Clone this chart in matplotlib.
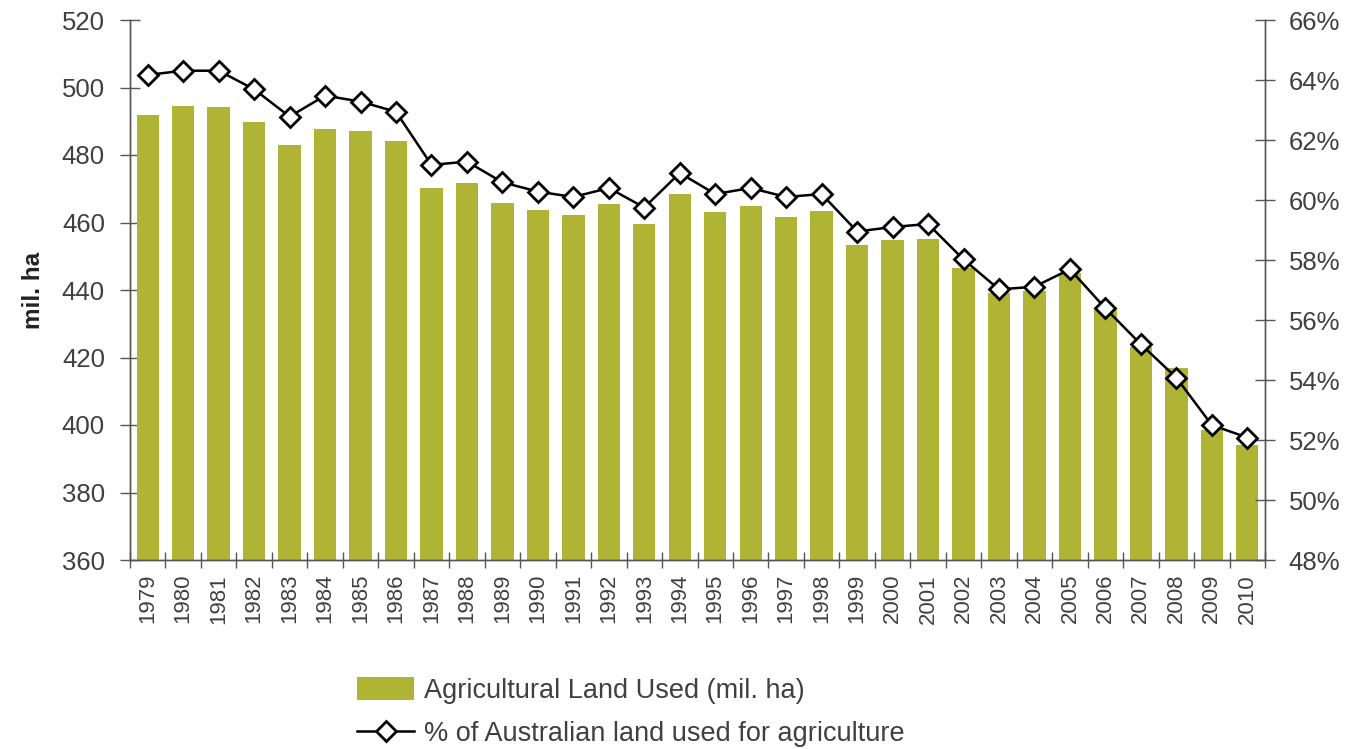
import matplotlib
matplotlib.use("Agg")
import matplotlib.pyplot as plt
from matplotlib.lines import Line2D
from matplotlib.patches import Patch
import numpy as np

plt.rcParams["font.family"] = ["Liberation Sans", "DejaVu Sans"]

years = [str(y) for y in range(1979, 2011)]
land_used = [491.9, 494.5, 494.3, 489.9, 483.0, 487.7, 487.1, 484.2, 470.1, 471.6,
             465.9, 463.7, 462.3, 465.5, 459.5, 468.4, 463.1, 464.9, 461.6, 463.4,
             453.3, 454.8, 455.2, 446.6, 439.2, 439.6, 444.9, 434.1, 423.2, 416.8,
             398.5, 394.1]
pct_used = [64.17, 64.31, 64.31, 63.69, 62.78, 63.48, 63.28, 62.94, 61.17, 61.28,
            60.59, 60.28, 60.10, 60.40, 59.75, 60.90, 60.20, 60.40, 60.10, 60.20,
            58.95, 59.10, 59.20, 58.02, 57.02, 57.11, 57.69, 56.39, 55.19, 54.08,
            52.50, 52.08]
left_ticks = list(range(360, 521, 20))
right_ticks = list(range(48, 67, 2))

BAR = "#b0b434"
TXT = "#404040"
AX = "#555555"

fig = plt.figure(figsize=(13.54, 7.49), dpi=100)
ax = fig.add_axes([130 / 1354, 1 - 560 / 749, 1135 / 1354, 540 / 749])
ax2 = ax.twinx()

x = np.arange(len(years))
ax.bar(x, land_used, width=0.63, color=BAR, zorder=2)
ax2.plot(x, pct_used, color="black", lw=1.8, marker="D", markersize=10,
         markerfacecolor="white", markeredgecolor="black", markeredgewidth=2, zorder=3)

ax.set_xlim(-0.5, len(years) - 0.5)
ax.set_ylim(360, 520)
ax2.set_ylim(48, 66)
ax.set_yticks(left_ticks)
ax2.set_yticks(right_ticks)
ax2.set_yticklabels([f"{v}%" for v in right_ticks])

ax.set_xticks(x)
ax.set_xticklabels(years, rotation=90)
ax.set_xticks(np.arange(-0.5, len(years), 1), minor=True)
ax.tick_params(axis="x", which="major", length=0, pad=10, labelsize=16, labelcolor=TXT)
ax.tick_params(axis="x", which="minor", direction="inout", length=12, width=1, color=AX)
ax.tick_params(axis="y", direction="inout", length=14, width=1, color=AX,
               labelsize=18.5, labelcolor=TXT, pad=11)
ax2.tick_params(axis="y", direction="inout", length=14, width=1, color=AX,
                labelsize=18.5, labelcolor=TXT, pad=10)

for a in (ax, ax2):
    a.spines["top"].set_visible(False)
    for s in ("left", "right", "bottom"):
        a.spines[s].set_color(AX)
        a.spines[s].set_linewidth(1)

ax.set_ylabel("mil. ha", fontsize=17.5, fontweight="bold", color="#222222", labelpad=12)

handles = [Patch(facecolor=BAR, edgecolor="none"),
           Line2D([0], [0], color="black", lw=1.8, marker="D", markersize=10,
                  markerfacecolor="white", markeredgecolor="black", markeredgewidth=2)]
labels = ["Agricultural Land Used (mil. ha)", "% of Australian land used for agriculture"]
fig.legend(handles, labels, loc="upper left", bbox_to_anchor=(333 / 1354, 1 - 653 / 749),
           frameon=False, fontsize=19.5, labelcolor=TXT, handlelength=2.1,
           handleheight=0.9, handletextpad=0.35, labelspacing=0.6)

fig.savefig("out.png", dpi=100)
